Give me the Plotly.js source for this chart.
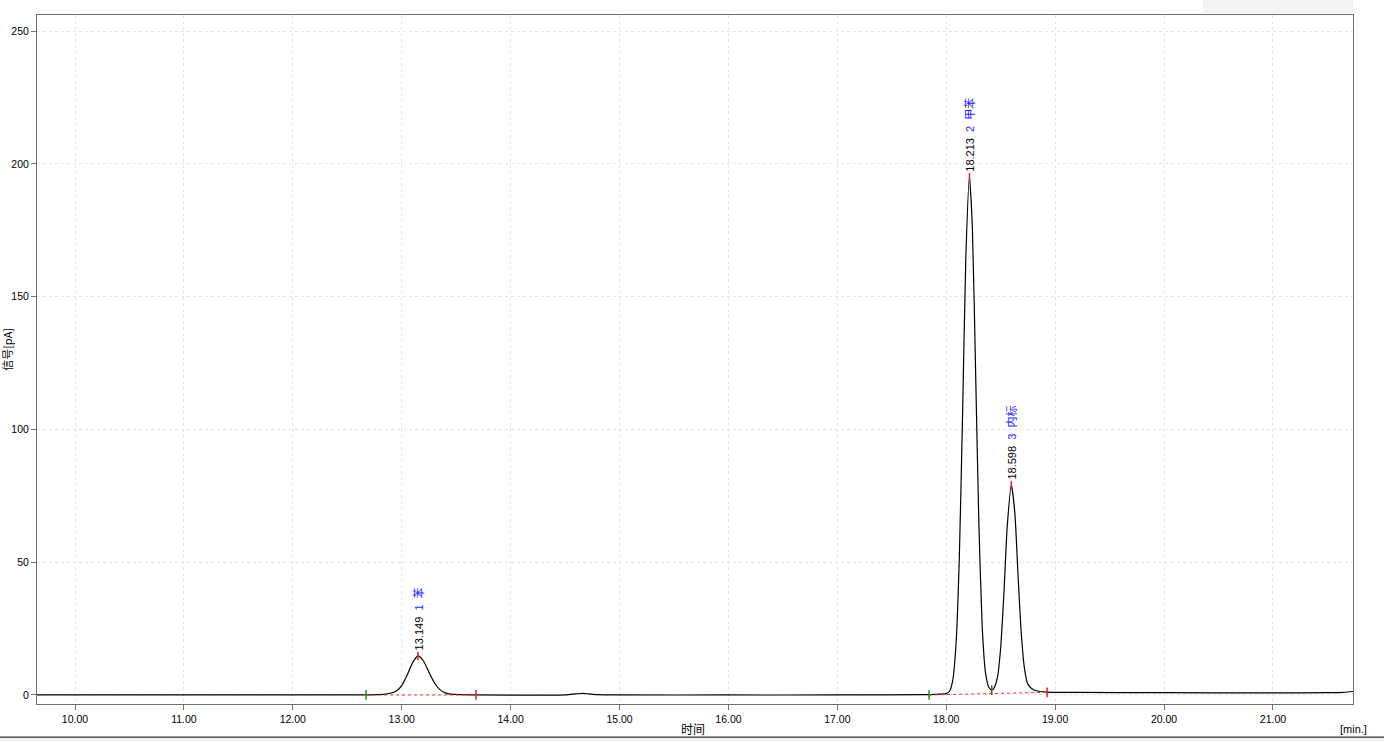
<!DOCTYPE html>
<html>
<head>
<meta charset="utf-8">
<script src="https://cdn.plot.ly/plotly-3.0.1.min.js"></script>
<style>
html,body{margin:0;padding:0;background:#fff;}
#chart{width:1384px;height:741px;}
</style>
</head>
<body>
<div id="chart"></div>
<script>
// Chromatogram signal (time in min, signal in pA)
const timeMin = [9.65, 10.5, 11.5, 12.5, 12.70, 12.85, 12.95, 13.00, 13.05, 13.10, 13.149, 13.20, 13.25, 13.30, 13.35, 13.40, 13.45, 13.55, 13.70,
  14.50, 14.60, 14.66, 14.72, 14.80, 15.00, 16.00, 17.00, 17.80, 17.90, 17.95, 18.00, 18.03, 18.06, 18.09, 18.12, 18.15, 18.18, 18.213,
  18.24, 18.27, 18.30, 18.33, 18.36, 18.39, 18.418, 18.44, 18.47, 18.50, 18.53, 18.56, 18.598, 18.63, 18.66, 18.69, 18.72, 18.75,
  18.80, 18.85, 18.92, 19.20, 20.00, 21.00, 21.50, 21.65, 21.735];
const signalPA = [0.0, 0.0, 0.05, 0.0, 0.05, 0.3, 1.5, 3.5, 7.5, 12.2, 14.7, 12.8, 8.6, 4.6, 2.0, 0.8, 0.3, 0.1, 0.0,
  0.05, 0.4, 0.6, 0.4, 0.1, 0.0, 0.0, 0.0, 0.1, 0.2, 0.3, 0.5, 1.4, 5.6, 19.3, 51.5, 105.7, 165, 195,
  176, 121, 64, 26, 8.5, 3.0, 1.9, 2.7, 6.6, 17.9, 38.6, 63.5, 79, 68.5, 44.5, 22.5, 9.5, 4.0,
  2.0, 1.4, 1.1, 1.0, 0.85, 0.8, 0.85, 1.0, 1.3];

// Identified peaks
const peakTime = [13.149, 18.213, 18.598];
const peakHeight = [14.7, 195, 79];
const peakNo = ['1', '2', '3'];
const peakName = ['苯', '甲苯', '内标'];

// Integration baseline marks
const markTime = [12.672, 13.682, 17.842, 18.418, 18.926];
const markSignal = [0, 0, 0, 1.8, 1.0];
const markColor = ['#1a9a1a', '#e02020', '#1a9a1a', '#5a5a10', '#e02020'];
const baseSegStartT = [12.672, 17.842];
const baseSegStartY = [0, 0];
const baseSegEndT = [13.682, 18.926];
const baseSegEndY = [0, 1.0];

const xTickVals = [10, 11, 12, 13, 14, 15, 16, 17, 18, 19, 20, 21];
const yTickVals = [0, 50, 100, 150, 200, 250];

const tickFont = {family: 'Liberation Sans, DejaVu Sans, sans-serif', size: 10.5, color: '#000'};
const cjk = 'Liberation Sans, Noto Sans CJK SC, sans-serif';

const traces = [];
traces.push({
  x: timeMin, y: signalPA, type: 'scatter', mode: 'lines',
  line: {color: '#000', width: 1.2, shape: 'spline', smoothing: 0.6},
  hoverinfo: 'skip', showlegend: false
});
for (let i = 0; i < baseSegStartT.length; i++) {
  traces.push({
    x: [baseSegStartT[i], baseSegEndT[i]], y: [baseSegStartY[i], baseSegEndY[i]],
    type: 'scatter', mode: 'lines', line: {color: '#ff3030', width: 1, dash: 'dot'},
    hoverinfo: 'skip', showlegend: false
  });
}
traces.push({
  x: markTime, y: markSignal, type: 'scatter', mode: 'markers',
  marker: {symbol: 'line-ns', size: 7, line: {color: markColor, width: 1.5}},
  hoverinfo: 'skip', showlegend: false
});
traces.push({
  x: peakTime, y: peakHeight, type: 'scatter', mode: 'markers',
  marker: {symbol: 'line-ns', size: 6, line: {color: '#e02020', width: 1.5}},
  hoverinfo: 'skip', showlegend: false
});

const annotations = peakTime.map((t, i) => ({
  x: t, y: peakHeight[i], xref: 'x', yref: 'y',
  text: t.toFixed(3) + '&nbsp;&nbsp;<span style="color:#1e1eff">' + peakNo[i] + '&nbsp;&nbsp;' + peakName[i] + '</span>',
  showarrow: false, textangle: -90, xanchor: 'center', yanchor: 'bottom', yshift: 4,
  font: {family: cjk, size: 11, color: '#000'}
}));
annotations.push({
  text: '时间', xref: 'paper', yref: 'paper', x: 0.4985, y: 0, yshift: -24,
  xanchor: 'center', yanchor: 'middle', showarrow: false,
  font: {family: 'Noto Sans CJK SC, sans-serif', size: 12, color: '#000'}
});
annotations.push({
  text: '[min.]', xref: 'paper', yref: 'paper', x: 1, y: 0, yshift: -25,
  xanchor: 'center', yanchor: 'middle', showarrow: false,
  font: {family: 'Liberation Sans, sans-serif', size: 11, color: '#000'}
});
annotations.push({
  text: '信号[pA]', xref: 'paper', yref: 'paper', x: 0, y: 0.514, xshift: -30,
  xanchor: 'center', yanchor: 'middle', showarrow: false, textangle: -90,
  font: {family: 'Noto Sans CJK SC, sans-serif', size: 11, color: '#000'}
});

const layout = {
  width: 1384, height: 741,
  margin: {l: 37, r: 31, t: 15, b: 37, pad: 0},
  paper_bgcolor: '#fff', plot_bgcolor: '#fff',
  showlegend: false,
  xaxis: {
    range: [9.651, 21.735], tickvals: xTickVals, tickformat: '.2f',
    ticks: 'outside', ticklen: 5, tickcolor: '#707070', tickwidth: 1,
    showline: true, linecolor: '#707070', linewidth: 1, mirror: true,
    showgrid: true, gridcolor: '#e4e4e4', griddash: '3px,3px', gridwidth: 1,
    zeroline: false, tickfont: tickFont, fixedrange: true
  },
  yaxis: {
    range: [-3.4, 256.1], tickvals: yTickVals,
    ticks: 'outside', ticklen: 5, tickcolor: '#707070', tickwidth: 1,
    showline: true, linecolor: '#707070', linewidth: 1, mirror: true,
    showgrid: true, gridcolor: '#e4e4e4', griddash: '3px,3px', gridwidth: 1,
    zeroline: false, tickfont: tickFont, fixedrange: true
  },
  annotations: annotations,
  shapes: [
    {type: 'rect', xref: 'paper', yref: 'paper', x0: 0.886, x1: 1.0, y0: 1.003, y1: 1.03,
     fillcolor: '#f2f2f2', line: {width: 0}, layer: 'below'},
    {type: 'rect', xref: 'paper', yref: 'paper', x0: -0.03, x1: 1.03, y0: -0.06, y1: -0.048,
     fillcolor: '#f0f0f0', line: {width: 0}},
    {type: 'line', xref: 'paper', yref: 'paper', x0: -0.03, x1: 1.03, y0: -0.048, y1: -0.048,
     line: {color: '#333', width: 1.2}}
  ]
};

Plotly.newPlot('chart', traces, layout, {displayModeBar: false, staticPlot: true});
</script>
</body>
</html>
